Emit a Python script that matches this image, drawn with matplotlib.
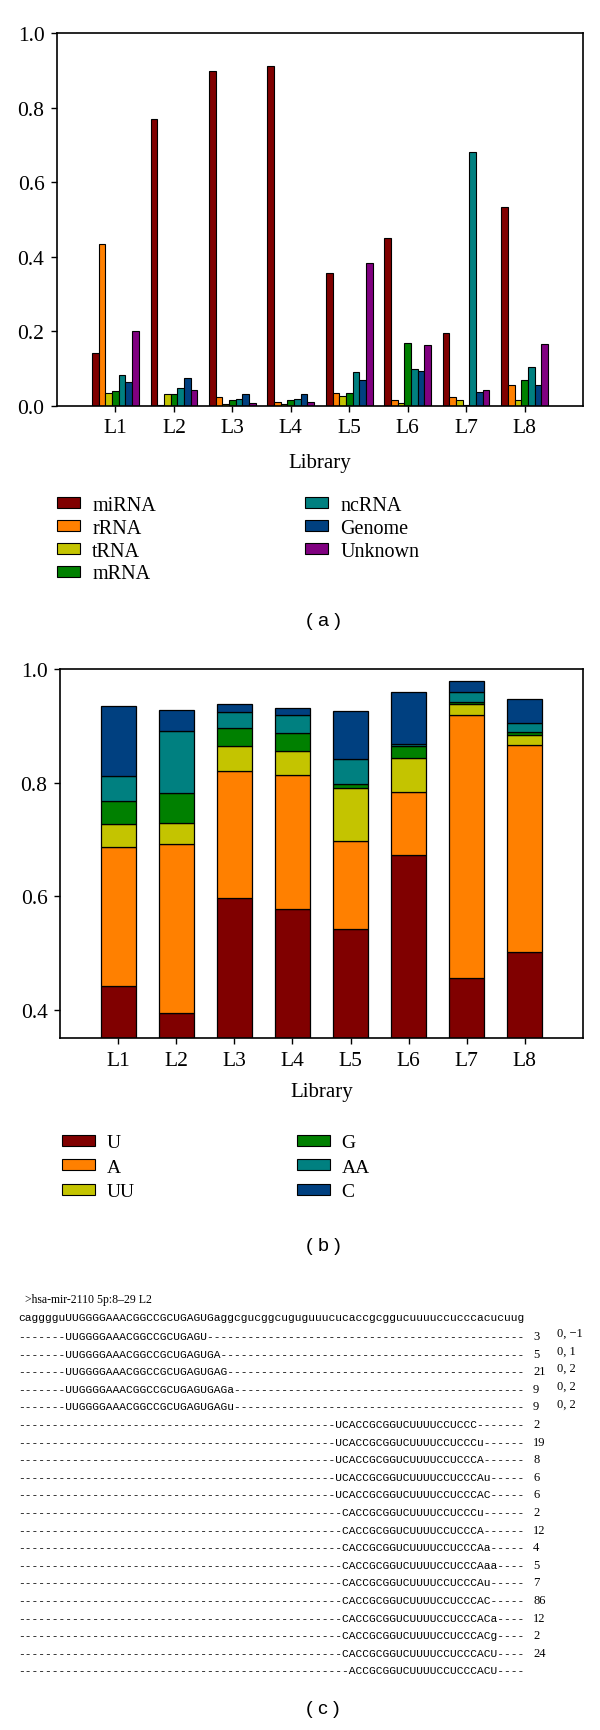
import matplotlib
matplotlib.use('Agg')
import numpy as np
import matplotlib.pyplot as plt
from matplotlib.patches import Patch

W, H = 600, 1731

libraries = ['L1', 'L2', 'L3', 'L4', 'L5', 'L6', 'L7', 'L8']

# (a) small RNA categories per library
rna_types = ['miRNA', 'rRNA', 'tRNA', 'mRNA', 'ncRNA', 'Genome', 'Unknown']
mirna   = [0.141, 0.770, 0.897, 0.912, 0.356, 0.450, 0.196, 0.533]
rrna    = [0.435, 0.002, 0.025, 0.010, 0.034, 0.016, 0.023, 0.056]
trna    = [0.036, 0.031, 0.006, 0.006, 0.028, 0.007, 0.016, 0.015]
mrna    = [0.041, 0.031, 0.015, 0.015, 0.036, 0.170, 0.003, 0.069]
ncrna   = [0.082, 0.047, 0.020, 0.019, 0.091, 0.100, 0.680, 0.105]
genome  = [0.064, 0.075, 0.031, 0.031, 0.070, 0.094, 0.038, 0.055]
unknown = [0.200, 0.043, 0.008, 0.011, 0.384, 0.164, 0.043, 0.167]

# (b) 3' end nucleotide fractions (stacked)
nt_types = ['U', 'A', 'UU', 'G', 'AA', 'C']
nt_u  = [0.441, 0.394, 0.597, 0.577, 0.542, 0.672, 0.455, 0.502]
nt_a  = [0.246, 0.298, 0.224, 0.236, 0.155, 0.112, 0.464, 0.364]
nt_uu = [0.040, 0.036, 0.044, 0.042, 0.093, 0.059, 0.019, 0.018]
nt_g  = [0.041, 0.053, 0.031, 0.032, 0.008, 0.022, 0.003, 0.005]
nt_aa = [0.044, 0.109, 0.029, 0.032, 0.044, 0.003, 0.019, 0.016]
nt_c  = [0.122, 0.038, 0.013, 0.013, 0.084, 0.092, 0.019, 0.043]

# (c) read alignment on the precursor
header = '>hsa-mir-2110 5p:8\u201329 L2'
precursor = 'cagggguUUGGGGAAACGGCCGCUGAGUGaggcgucggcuguguuucucaccgcggucuuuuccucccacucuug'
read_starts = [7, 7, 7, 7, 7, 47, 47, 47, 47, 47,
               48, 48, 48, 48, 48, 48, 48, 48, 48, 49]
reads = ['UUGGGGAAACGGCCGCUGAGU', 'UUGGGGAAACGGCCGCUGAGUGA', 'UUGGGGAAACGGCCGCUGAGUGAG',
         'UUGGGGAAACGGCCGCUGAGUGAGa', 'UUGGGGAAACGGCCGCUGAGUGAGu',
         'UCACCGCGGUCUUUUCCUCCC', 'UCACCGCGGUCUUUUCCUCCCu', 'UCACCGCGGUCUUUUCCUCCCA',
         'UCACCGCGGUCUUUUCCUCCCAu', 'UCACCGCGGUCUUUUCCUCCCAC',
         'CACCGCGGUCUUUUCCUCCCu', 'CACCGCGGUCUUUUCCUCCCA', 'CACCGCGGUCUUUUCCUCCCAa',
         'CACCGCGGUCUUUUCCUCCCAaa', 'CACCGCGGUCUUUUCCUCCCAu', 'CACCGCGGUCUUUUCCUCCCAC',
         'CACCGCGGUCUUUUCCUCCCACa', 'CACCGCGGUCUUUUCCUCCCACg', 'CACCGCGGUCUUUUCCUCCCACU',
         'ACCGCGGUCUUUUCCUCCCACU']
read_counts = ['3', '5', '21', '9', '9', '2', '19', '8', '6', '6',
               '2', '12', '4', '5', '7', '86', '12', '2', '24', '']
read_notes = ['0, \u22121', '0, 1', '0, 2', '0, 2', '0, 2'] + [''] * 15

COLORS = ['#800000', '#ff8000', '#c4c400', '#008000', '#008080', '#004080', '#800080']
SERIF = 'Liberation Serif'
TICK_FS = 15.5


def px_axes(fig, left, top, right, bottom):
    return fig.add_axes([left / W, 1 - bottom / H, (right - left) / W, (bottom - top) / H])


def style_axes(ax, labelpad):
    ax.set_xlim(0, 9)
    ax.set_xticks(range(1, 9))
    ax.set_xticklabels(libraries)
    ax.tick_params(direction='out', length=4, width=1, pad=5, labelsize=TICK_FS)
    for lab in ax.get_xticklabels() + ax.get_yticklabels():
        lab.set_family(SERIF)
    for sp in ax.spines.values():
        sp.set_linewidth(1.2)
    ax.set_xlabel('Library', family=SERIF, fontsize=15, labelpad=labelpad)


def px_legend(fig, handles, labels, x, y, hl, hh, spacing, size):
    leg = fig.legend(handles, labels, loc='upper left', bbox_to_anchor=(x / W, 1 - y / H),
                     frameon=False, borderpad=0, borderaxespad=0, handlelength=hl,
                     handleheight=hh, handletextpad=0.6, labelspacing=spacing,
                     prop={'family': SERIF, 'size': size})
    return leg


fig = plt.figure(figsize=(W / 100, H / 100), dpi=100)

# ---- (a) grouped bars
ax1 = px_axes(fig, 57, 34, 583, 407)
x = np.arange(1, 9)
bw = 0.8 / 7
for i, vals in enumerate([mirna, rrna, trna, mrna, ncrna, genome, unknown]):
    ax1.bar(x - 0.4 + bw * (i + 0.5), vals, bw, color=COLORS[i], edgecolor='black', linewidth=0.8)
ax1.set_ylim(0, 1.0)
ax1.set_yticks([0, 0.2, 0.4, 0.6, 0.8, 1.0])
ax1.set_yticklabels(['0.0', '0.2', '0.4', '0.6', '0.8', '1.0'])
style_axes(ax1, 11)

h1 = [Patch(facecolor=c, edgecolor='black', linewidth=0.8) for c in COLORS]
px_legend(fig, h1[:4], rna_types[:4], 57, 497, 1.15, 0.45, 0.19, 14.5)
px_legend(fig, h1[4:], rna_types[4:], 305, 497, 1.15, 0.45, 0.19, 14.5)
fig.text(323 / W, 1 - 622 / H, '( a )', ha='center', va='center', family='Liberation Sans', fontsize=14)

# ---- (b) stacked bars
ax2 = px_axes(fig, 60, 670, 583, 1039)
bottom = np.zeros(8)
for i, vals in enumerate([nt_u, nt_a, nt_uu, nt_g, nt_aa, nt_c]):
    ax2.bar(x, vals, 0.6, bottom=bottom, color=COLORS[i], edgecolor='black', linewidth=0.9)
    bottom += np.array(vals)
ax2.set_ylim(0.35, 1.0)
ax2.set_yticks([0.4, 0.6, 0.8, 1.0])
ax2.set_yticklabels(['0.4', '0.6', '0.8', '1.0'])
style_axes(ax2, 9)

h2 = [Patch(facecolor=c, edgecolor='black', linewidth=0.8) for c in COLORS[:6]]
px_legend(fig, h2[:3], nt_types[:3], 62, 1135, 1.7, 0.5, 0.39, 14)
px_legend(fig, h2[3:], nt_types[3:], 297, 1135, 1.7, 0.5, 0.39, 14)
fig.text(323 / W, 1 - 1247 / H, '( b )', ha='center', va='center', family='Liberation Sans', fontsize=14)

# ---- (c) alignment text
MONO = dict(family='Liberation Mono', fontsize=8.1, va='center', ha='left')
fig.text(25 / W, 1 - 1300 / H, header, family=SERIF, fontsize=8.5, va='center')
fig.text(18 / W, 1 - 1318 / H, precursor, **MONO)
n = len(precursor)
for k, (s, r) in enumerate(zip(read_starts, reads)):
    y = 1 - (1337 + 17.6 * k) / H
    line = '-' * s + r + '-' * (n - s - len(r))
    fig.text(18 / W, y, line, **MONO)
    fig.text(533 / W, y, read_counts[k], family=SERIF, fontsize=9, va='center')
    fig.text(557 / W, y + 3 / H, read_notes[k], family=SERIF, fontsize=9, va='center')
fig.text(323 / W, 1 - 1710 / H, '( c )', ha='center', va='center', family='Liberation Sans', fontsize=14)

fig.savefig('out.png', dpi=100)
